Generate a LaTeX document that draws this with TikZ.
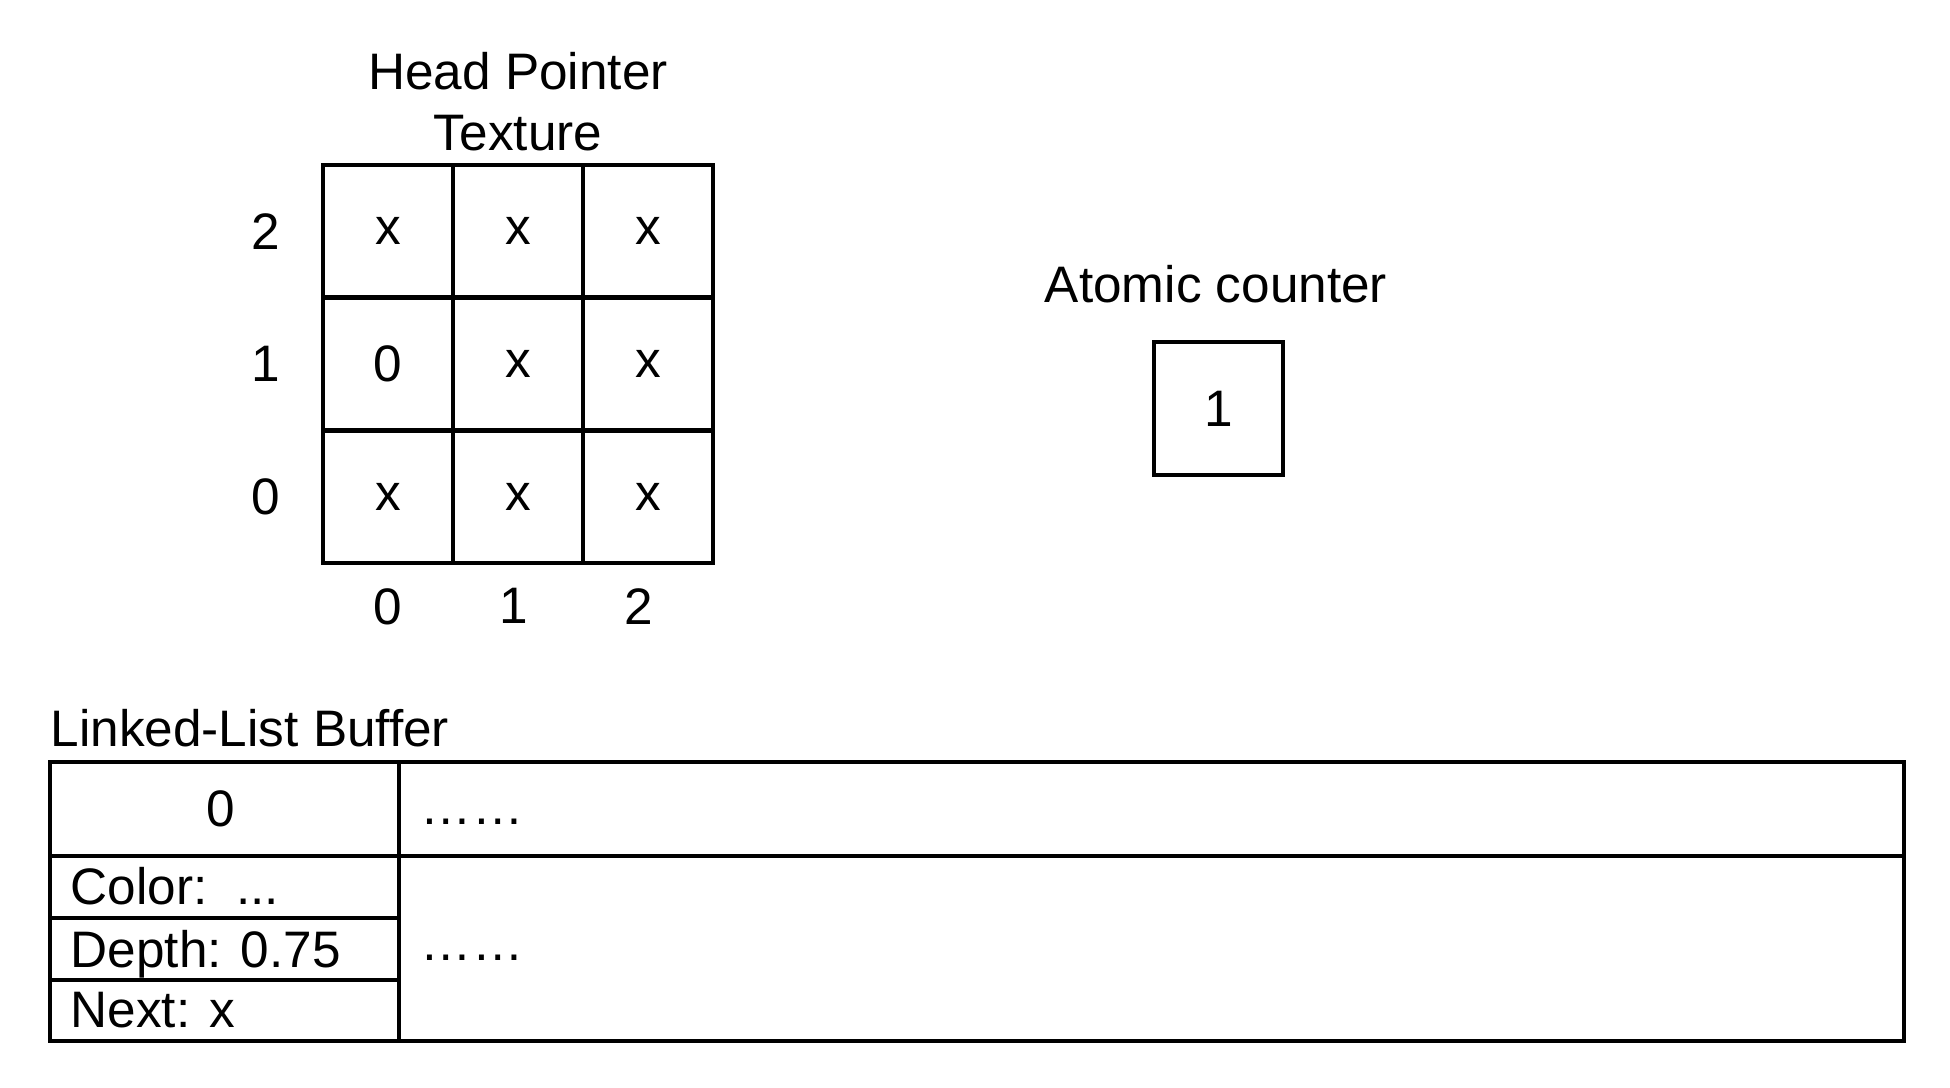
\documentclass[tikz,border=0pt]{standalone}
\usepackage{fontspec}
\setmainfont{Liberation Sans}
\usetikzlibrary{positioning}

\tikzset{
    texto/.style={font=\fontsize{14.6}{17.5}\selectfont},
    celda/.style={texto, draw, line width=1.3pt, minimum width=1.3cm,
        minimum height=1.327cm, inner sep=0pt},
    linea/.style={line width=1.3pt},
}

\begin{document}
\begin{tikzpicture}[every node/.style={texto}]
    % parámetros
    \def\gx{3.23}   % borde izquierdo de la textura
    \def\gy{5.25}   % borde inferior de la textura
    \def\cw{1.30}   % ancho de celda
    \def\ch{1.327}  % alto de celda

    % marco
    \useasboundingbox (0,0) rectangle (19.5,10.88);

    %—————— Head Pointer Texture ——————
    \node[anchor=base] (tit1) at (5.18,9.985) {Head Pointer};
    \node[anchor=base] (tit2) at (5.18,9.375) {Texture};

    % celdas (fila \r, columna \c)
    \foreach \r/\fila in {0/{x,x,x},1/{0,x,x},2/{x,x,x}} {
        \foreach \v [count=\c from 0] in \fila {
            \node[celda] (c\c\r) at (\gx+\c*\cw+0.5*\cw,\gy+\r*\ch+0.5*\ch) {\v};
        }
    }

    % índices de filas y columnas
    \foreach \i in {0,1,2} {
        \node[left=0.28cm of c0\i] (fil\i) {\i};
        \node[below=0.11cm of c\i0, xshift={-0.045cm*\i}] (col\i) {\i};
    }

    %—————— contador atómico ——————
    \node[anchor=base] (contlbl) at (12.16,7.85) {Atomic counter};
    \node[celda, minimum width=1.29cm, minimum height=1.33cm] (cont) at (12.185,6.795) {1};

    %—————— Linked-List Buffer ——————
    \node[anchor=base west, inner sep=0pt] (buflbl) at (0.50,3.41) {Linked-List Buffer};

    % marco y divisiones
    \draw[linea] (0.50,0.47) rectangle (19.04,3.26);
    \draw[linea] (0.50,2.32) -- (19.04,2.32);
    \draw[linea] (3.99,0.47) -- (3.99,3.26);
    \draw[linea] (0.50,1.70) -- (3.99,1.70);
    \draw[linea] (0.50,1.08) -- (3.99,1.08);

    % contenido
    \node (idx) at (2.21,2.79) {0};
    \node[anchor=base west, inner sep=0pt] (pts1) at (4.20,2.635) {……};
    \node[anchor=base west, inner sep=0pt] (pts2) at (4.20,1.27) {……};
    \node[anchor=base west, inner sep=0pt] (fcol) at (0.70,1.83) {Color:\ \ ...};
    \node[anchor=base west, inner sep=0pt] (fdep) at (0.70,1.205) {Depth: 0.75};
    \node[anchor=base west, inner sep=0pt] (fsig) at (0.70,0.60) {Next: x};
\end{tikzpicture}
\end{document}
